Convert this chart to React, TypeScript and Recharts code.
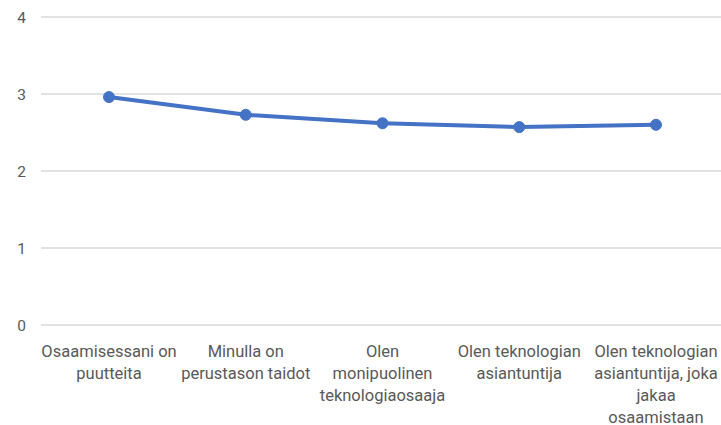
import React from 'react';
import { LineChart, Line, XAxis, YAxis, CartesianGrid } from 'recharts';

const categories = [
  'Osaamisessani on\npuutteita',
  'Minulla on\nperustason taidot',
  'Olen\nmonipuolinen\nteknologiaosaaja',
  'Olen teknologian\nasiantuntija',
  'Olen teknologian\nasiantuntija, joka\njakaa\nosaamistaan',
];
const values = [2.96, 2.73, 2.62, 2.57, 2.6];
const yTicks = [0, 1, 2, 3, 4];

const data = categories.map((name, i) => ({ name, value: values[i] }));

const FONT = "Roboto, 'Noto Sans', sans-serif";
const TEXT = '#595959';

const CategoryTick = ({ x, y, payload }: any) => {
  const lines = String(payload.value).split('\n');
  return (
    <text x={x} y={y} textAnchor="middle" fill={TEXT} fontFamily={FONT} fontSize={16.5}>
      {lines.map((line: string, i: number) => (
        <tspan key={i} x={x} dy={i === 0 ? 23.5 : 22}>
          {line}
        </tspan>
      ))}
    </text>
  );
};

const App: React.FC = () => {
  return (
    <div style={{ position: 'absolute', left: 0, top: 0, width: 721, height: 425, overflow: 'hidden', background: '#fff' }}>
      <LineChart
        width={724}
        height={425}
        data={data}
        margin={{ top: 17, right: 0, bottom: 0, left: 0 }}
      >
        <CartesianGrid vertical={false} stroke="#d9d9d9" strokeWidth={1.5} />
        <XAxis
          dataKey="name"
          axisLine={false}
          tickLine={false}
          interval={0}
          tick={<CategoryTick />}
          height={100}
          padding={{ left: 68, right: 68 }}
        />
        <YAxis
          domain={[0, 4]}
          ticks={yTicks}
          axisLine={false}
          tickLine={false}
          tickSize={0}
          tickMargin={15}
          width={41}
          tick={{ fill: TEXT, fontFamily: FONT, fontSize: 15.5 }}
        />
        <Line
          type="linear"
          dataKey="value"
          stroke="#4472c4"
          strokeWidth={4}
          dot={{ r: 5.5, fill: '#4472c4', stroke: '#4472c4', strokeWidth: 1 }}
          isAnimationActive={false}
        />
      </LineChart>
    </div>
  );
};

export default App;
